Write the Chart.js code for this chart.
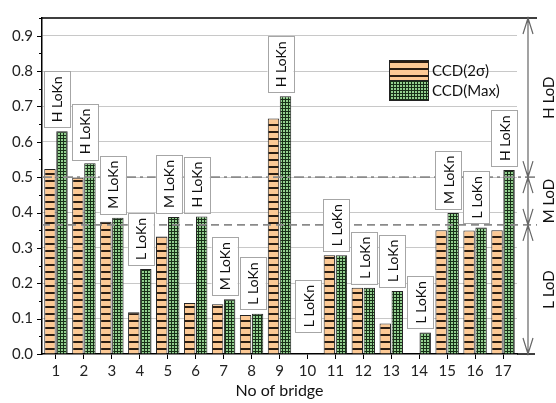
<!DOCTYPE html>
<html>
<head>
<meta charset="utf-8">
<script src="https://cdn.jsdelivr.net/npm/chart.js@4"></script>
<style>
  html, body { margin: 0; padding: 0; background: #fff; }
  #wrap { width: 556px; height: 403px; }
</style>
</head>
<body>
<div id="wrap"><canvas id="myChart" width="556" height="403"></canvas></div>
<script>
const bridges = ['1', '2', '3', '4', '5', '6', '7', '8', '9', '10', '11', '12', '13', '14', '15', '16', '17'];
const ccd2Sigma = [0.523, 0.498, 0.374, 0.118, 0.332, 0.144, 0.141, 0.110, 0.666, null, 0.279, 0.187, 0.086, null, 0.350, 0.349, 0.350];
const ccdMax = [0.630, 0.539, 0.385, 0.240, 0.387, 0.389, 0.155, 0.114, 0.729, null, 0.279, 0.187, 0.178, 0.061, 0.399, 0.358, 0.520];
const loknLabels = ['H LoKn', 'H LoKn', 'M LoKn', 'L LoKn', 'M LoKn', 'H LoKn', 'M LoKn', 'L LoKn', 'H LoKn',
    'L LoKn', 'L LoKn', 'L LoKn', 'L LoKn', 'L LoKn', 'M LoKn', 'L LoKn', 'H LoKn'];
const lodThresholds = [0.365, 0.5];
const lodLabels = ['L LoD', 'M LoD', 'H LoD'];
const seriesNames = ['CCD(2σ)', 'CCD(Max)'];

const FONT = 'Lato, "Open Sans", sans-serif';
const canvas = document.getElementById('myChart');
const ctx = canvas.getContext('2d');

// hatch fills
function makeStripes() {
    const c = document.createElement('canvas');
    c.width = 8; c.height = 7;
    const g = c.getContext('2d');
    g.fillStyle = '#fcc995';
    g.fillRect(0, 0, 8, 7);
    g.fillStyle = '#2b1d12';
    g.fillRect(0, 5, 8, 2);
    return ctx.createPattern(c, 'repeat');
}
function makeGrid() {
    const c = document.createElement('canvas');
    c.width = 3; c.height = 3;
    const g = c.getContext('2d');
    g.fillStyle = '#93d08f';
    g.fillRect(0, 0, 3, 3);
    g.fillStyle = '#183018';
    g.fillRect(0, 0, 3, 1);
    g.fillRect(0, 0, 1, 3);
    return ctx.createPattern(c, 'repeat');
}
const orangeFill = makeStripes();
const greenFill = makeGrid();

const overlay = {
    id: 'overlay',
    afterDatasetsDraw(chart) {
        const c = chart.ctx;
        const x = chart.scales.x;
        const y = chart.scales.y;
        const area = chart.chartArea;
        const farRight = 537;
        c.save();

        // minor / major ticks on y axis
        c.strokeStyle = '#000';
        c.lineWidth = 1;
        for (let i = 0; i <= 19; i++) {
            const py = Math.round(y.getPixelForValue(i * 0.05)) + 0.5;
            const len = i % 2 === 0 ? 5 : 3;
            c.beginPath();
            c.moveTo(area.left - len, py);
            c.lineTo(area.left, py);
            c.stroke();
        }

        // top frame line and extended x axis
        c.lineWidth = 1.5;
        c.beginPath();
        c.moveTo(area.left, area.top);
        c.lineTo(farRight, area.top);
        c.moveTo(area.right, area.bottom);
        c.lineTo(535, area.bottom);
        c.stroke();

        // LoD threshold lines
        c.strokeStyle = '#8a8a8a';
        c.lineWidth = 1.8;
        lodThresholds.forEach((v, i) => {
            const py = y.getPixelForValue(v);
            c.setLineDash(i === 1 ? [10, 4, 3, 4] : [8, 5]);
            c.beginPath();
            c.moveTo(area.left, py);
            c.lineTo(farRight, py);
            c.stroke();
        });
        c.setLineDash([]);

        // LoKn boxes
        c.font = '14px ' + FONT;
        c.textAlign = 'center';
        c.textBaseline = 'middle';
        bridges.forEach((b, i) => {
            const top = Math.max(ccd2Sigma[i] || 0, ccdMax[i] || 0, 0.05);
            const cx = x.getPixelForValue(i) + 1;
            const bottom = y.getPixelForValue(top) - 4;
            const tw = c.measureText(loknLabels[i]).width;
            const h = tw + 10;
            const w = 26;
            c.fillStyle = '#fff';
            c.fillRect(cx - w / 2, bottom - h, w, h);
            c.strokeStyle = '#a6a6a6';
            c.lineWidth = 1;
            c.strokeRect(Math.round(cx - w / 2) + 0.5, Math.round(bottom - h) + 0.5, w, Math.round(h));
            c.save();
            c.translate(cx, bottom - h / 2);
            c.rotate(-Math.PI / 2);
            c.fillStyle = '#111';
            c.fillText(loknLabels[i], 0, 1);
            c.restore();
        });

        // legend
        const lx = 389, lw = 39, lh = 20;
        const fills = [orangeFill, greenFill];
        c.font = '15px ' + FONT;
        c.textAlign = 'left';
        seriesNames.forEach((name, i) => {
            const ly = 60 + i * 20;
            c.fillStyle = fills[i];
            c.fillRect(lx, ly, lw, lh);
            c.strokeStyle = '#222';
            c.lineWidth = 1;
            c.strokeRect(lx + 0.5, ly + 0.5, lw, lh);
            c.fillStyle = '#111';
            c.fillText(name, lx + lw + 4, ly + 11);
        });

        // LoD arrows
        const ax = 528;
        const marks = [area.top, ...lodThresholds.slice().reverse().map(v => y.getPixelForValue(v)), area.bottom];
        c.strokeStyle = '#666';
        c.lineWidth = 1.2;
        c.beginPath();
        c.moveTo(ax, area.top);
        c.lineTo(ax, area.bottom);
        for (let k = 0; k < marks.length; k++) {
            const m = marks[k];
            if (k > 0) { // head pointing down
                c.moveTo(ax - 5, m - 16); c.lineTo(ax, m); c.lineTo(ax + 5, m - 16);
            }
            if (k < marks.length - 1) { // head pointing up
                c.moveTo(ax - 5, m + 16); c.lineTo(ax, m); c.lineTo(ax + 5, m + 16);
            }
        }
        c.stroke();

        c.font = '15px ' + FONT;
        c.textAlign = 'center';
        c.fillStyle = '#111';
        for (let k = 0; k < 3; k++) {
            const yTop = marks[2 - k];
            const yBot = marks[3 - k];
            c.save();
            c.translate(549, (yTop + yBot) / 2);
            c.rotate(-Math.PI / 2);
            c.fillText(lodLabels[k], 0, 0);
            c.restore();
        }
        c.restore();
    }
};

new Chart(ctx, {
    type: 'bar',
    data: {
        labels: bridges,
        datasets: [{
            label: seriesNames[0],
            data: ccd2Sigma,
            backgroundColor: orangeFill,
            borderColor: '#222',
            borderWidth: 1
        }, {
            label: seriesNames[1],
            data: ccdMax,
            backgroundColor: greenFill,
            borderColor: '#222',
            borderWidth: 1
        }]
    },
    options: {
        responsive: false,
        animation: false,
        layout: { padding: { top: 9, right: 39, left: 0, bottom: 0 } },
        datasets: { bar: { categoryPercentage: 0.86, barPercentage: 0.95 } },
        plugins: { legend: { display: false }, tooltip: { enabled: false } },
        scales: {
            x: {
                afterFit: s => { s.height = 49; },
                grid: { drawOnChartArea: false, offset: false, tickLength: 5, tickColor: '#000' },
                border: { color: '#000', width: 1.5 },
                ticks: { color: '#222', font: { family: FONT, size: 15 }, padding: 3 },
                title: { display: true, text: 'No of bridge', color: '#111', font: { family: FONT, size: 16 }, padding: { top: 0, bottom: 3 } }
            },
            y: {
                min: 0,
                max: 0.95,
                afterFit: s => { s.width = 42; },
                border: { color: '#000', width: 1.5 },
                grid: {
                    drawTicks: false,
                    color: c => {
                        const k = Math.round(c.tick.value * 20);
                        return (k % 2 === 0 && k > 0 && k < 19) ? '#c8c8c8' : 'rgba(0,0,0,0)';
                    },
                    lineWidth: 1
                },
                ticks: {
                    stepSize: 0.05,
                    padding: 9,
                    color: '#222',
                    font: { family: FONT, size: 15 },
                    callback: v => {
                        const k = Math.round(v * 20);
                        return (k % 2 === 0 && k < 19) ? (k / 20).toFixed(1) : '';
                    }
                }
            }
        }
    },
    plugins: [overlay]
});
</script>
</body>
</html>
